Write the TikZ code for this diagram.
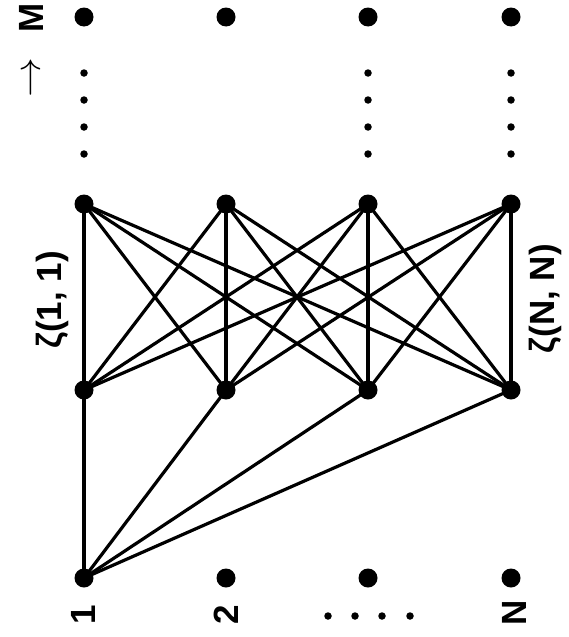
\documentclass[tikz,border=0pt]{standalone}
\usepackage{fontspec}
\setmainfont{Liberation Sans}
\begin{document}
\begin{tikzpicture}[x=1pt,y=-1pt,
  bigdot/.style={circle,fill=black,inner sep=0pt,minimum size=19pt},
  smalldot/.style={circle,fill=black,inner sep=0pt,minimum size=7.5pt},
  edge/.style={line width=3.2pt},
  lbl/.style={rotate=90,inner sep=0pt,font=\fontsize{35}{38}\selectfont\bfseries}]
\useasboundingbox (0,0) rectangle (568,637);
% columns
\foreach \i/\x in {1/84,2/226,3/368,4/511}{
  \node[bigdot] (T\i) at (\x,17) {};
  \node[bigdot] (U\i) at (\x,204) {};
  \node[bigdot] (L\i) at (\x,390) {};
  \node[bigdot] (B\i) at (\x,578) {};
}
% dotted columns
\foreach \i/\x in {1/84,3/368,4/511}{
  \foreach \j/\y in {1/73,2/100,3/127,4/154}{
    \node[smalldot] (D\i\j) at (\x,\y) {};
  }
}
% complete bipartite edges
\foreach \i in {1,...,4}{
  \foreach \j in {1,...,4}{
    \draw[edge] (U\i.center) -- (L\j.center);
  }
  \draw[edge] (B1.center) -- (L\i.center);
}
% labels
\node[lbl] (m) at (31,18) {M};
\node[lbl] (arr) at (33,78) {\scalebox{1.6}[1.5]{\(\rightarrow\)}};
\node[lbl] (z11) at (52,300) {ζ(1, 1)};
\node[lbl] (zNN) at (545,299) {ζ(N, N)};
\node[lbl] (l1) at (83,615) {1};
\node[lbl] (l2) at (226,615) {2};
\node[lbl] (lN) at (514,613) {N};
\foreach \k/\x in {1/328,2/355,3/382,4/410}{
  \node[smalldot] (e\k) at (\x,616) {};
}
\end{tikzpicture}
\end{document}
